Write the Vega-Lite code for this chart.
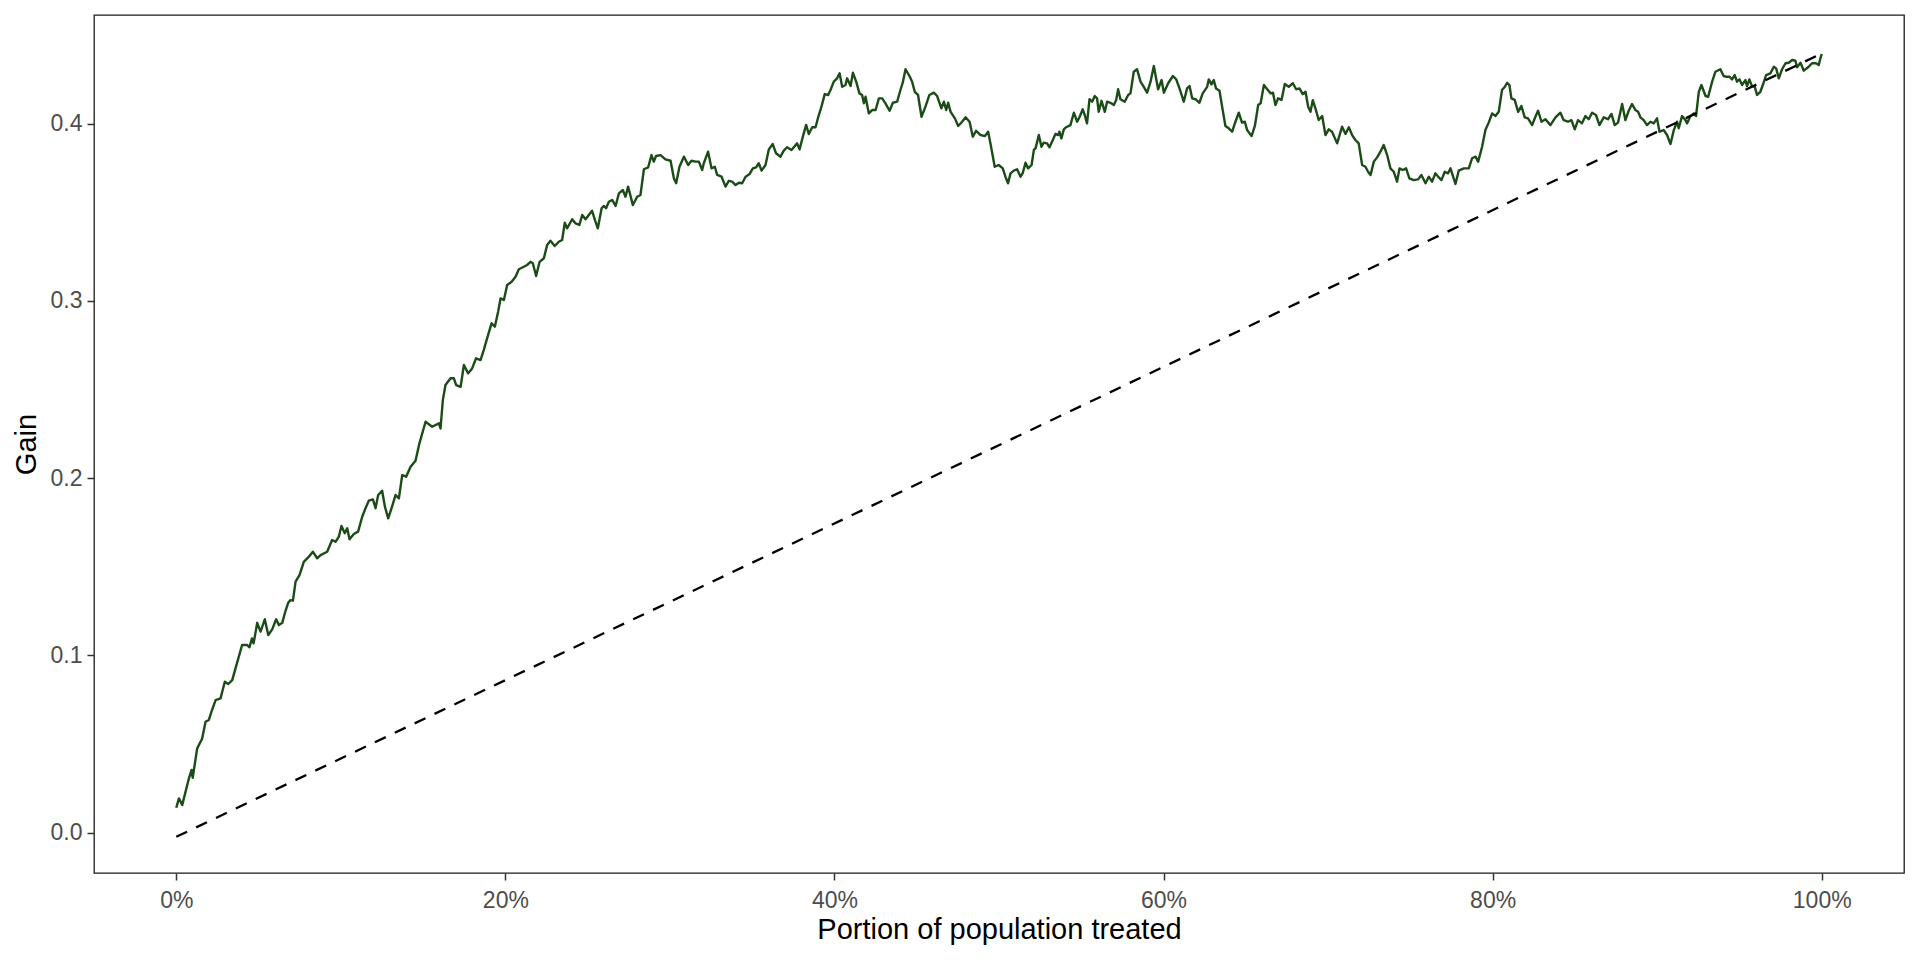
{
  "$schema": "https://vega.github.io/schema/vega-lite/v6.json",
  "width": 1810,
  "height": 858,
  "autosize": {"type": "none"},
  "padding": {"left": 94, "top": 15, "right": 16, "bottom": 87},
  "background": "white",
  "datasets": {
    "curve": [
      {"p":0,"g":0.0141},{"p":0.0016,"g":0.0194},{"p":0.0036,"g":0.0156},{"p":0.0077,"g":0.0307},{"p":0.0093,"g":0.0354},{"p":0.01,"g":0.031},{"p":0.0127,"g":0.0476},{"p":0.0157,"g":0.053},{"p":0.0178,"g":0.0626},{"p":0.0198,"g":0.0636},{"p":0.0214,"g":0.0683},{"p":0.0239,"g":0.0748},{"p":0.0269,"g":0.0758},{"p":0.0295,"g":0.0852},{"p":0.0316,"g":0.0839},{"p":0.034,"g":0.0861},{"p":0.036,"g":0.0927},{"p":0.04,"g":0.1059},{"p":0.043,"g":0.1059},{"p":0.0445,"g":0.1046},{"p":0.046,"g":0.1096},{"p":0.047,"g":0.1068},{"p":0.0492,"g":0.1184},{"p":0.0512,"g":0.1134},{"p":0.0538,"g":0.1204},{"p":0.0559,"g":0.1115},{"p":0.0583,"g":0.1147},{"p":0.0607,"g":0.1204},{"p":0.0624,"g":0.1171},{"p":0.0644,"g":0.1184},{"p":0.0664,"g":0.1252},{"p":0.068,"g":0.1297},{"p":0.0694,"g":0.1312},{"p":0.0709,"g":0.1309},{"p":0.0725,"g":0.1416},{"p":0.0749,"g":0.1453},{"p":0.0775,"g":0.1528},{"p":0.0806,"g":0.1557},{"p":0.083,"g":0.1585},{"p":0.0856,"g":0.1548},{"p":0.0877,"g":0.1566},{"p":0.0917,"g":0.1585},{"p":0.0947,"g":0.1651},{"p":0.0968,"g":0.1641},{"p":0.0988,"g":0.167},{"p":0.1004,"g":0.173},{"p":0.1024,"g":0.1689},{"p":0.1039,"g":0.1717},{"p":0.1053,"g":0.1655},{"p":0.1079,"g":0.1685},{"p":0.1105,"g":0.1698},{"p":0.113,"g":0.1782},{"p":0.115,"g":0.183},{"p":0.117,"g":0.1873},{"p":0.1195,"g":0.188},{"p":0.1211,"g":0.183},{"p":0.1227,"g":0.1905},{"p":0.1251,"g":0.1929},{"p":0.1268,"g":0.1839},{"p":0.1288,"g":0.1773},{"p":0.1308,"g":0.183},{"p":0.1333,"g":0.1905},{"p":0.1353,"g":0.1886},{"p":0.1373,"g":0.2017},{"p":0.1397,"g":0.2008},{"p":0.1424,"g":0.2064},{"p":0.1454,"g":0.2098},{"p":0.1476,"g":0.219},{"p":0.1515,"g":0.2318},{"p":0.1555,"g":0.229},{"p":0.1596,"g":0.2309},{"p":0.1606,"g":0.228},{"p":0.162,"g":0.244},{"p":0.1636,"g":0.2525},{"p":0.1667,"g":0.2563},{"p":0.1687,"g":0.2563},{"p":0.1701,"g":0.2525},{"p":0.1728,"g":0.2515},{"p":0.1748,"g":0.2638},{"p":0.1774,"g":0.2591},{"p":0.1798,"g":0.2619},{"p":0.1822,"g":0.2676},{"p":0.1849,"g":0.2666},{"p":0.1869,"g":0.2723},{"p":0.1889,"g":0.2788},{"p":0.1916,"g":0.2873},{"p":0.1936,"g":0.2854},{"p":0.1956,"g":0.2939},{"p":0.1971,"g":0.3014},{"p":0.1991,"g":0.3005},{"p":0.2011,"g":0.3089},{"p":0.2038,"g":0.3108},{"p":0.2062,"g":0.3136},{"p":0.2082,"g":0.3178},{"p":0.2112,"g":0.3192},{"p":0.2132,"g":0.3202},{"p":0.2153,"g":0.322},{"p":0.2167,"g":0.3212},{"p":0.2187,"g":0.314},{"p":0.2208,"g":0.322},{"p":0.2234,"g":0.324},{"p":0.2254,"g":0.3315},{"p":0.2274,"g":0.3339},{"p":0.23,"g":0.3309},{"p":0.2325,"g":0.3333},{"p":0.2345,"g":0.3343},{"p":0.2361,"g":0.344},{"p":0.2375,"g":0.3409},{"p":0.2406,"g":0.346},{"p":0.2426,"g":0.3437},{"p":0.245,"g":0.3428},{"p":0.2467,"g":0.3484},{"p":0.2487,"g":0.346},{"p":0.2507,"g":0.3484},{"p":0.2527,"g":0.3508},{"p":0.2544,"g":0.3456},{"p":0.2562,"g":0.3409},{"p":0.2585,"g":0.3522},{"p":0.2598,"g":0.3535},{"p":0.2612,"g":0.3522},{"p":0.2629,"g":0.3559},{"p":0.2649,"g":0.3569},{"p":0.267,"g":0.3535},{"p":0.269,"g":0.3606},{"p":0.2714,"g":0.3625},{"p":0.273,"g":0.3587},{"p":0.2746,"g":0.3644},{"p":0.2775,"g":0.354},{"p":0.2801,"g":0.3587},{"p":0.2821,"g":0.3597},{"p":0.2842,"g":0.3742},{"p":0.2868,"g":0.3753},{"p":0.2888,"g":0.3822},{"p":0.2902,"g":0.3785},{"p":0.2916,"g":0.3817},{"p":0.2943,"g":0.3822},{"p":0.2973,"g":0.3798},{"p":0.3004,"g":0.379},{"p":0.3024,"g":0.3691},{"p":0.3038,"g":0.3663},{"p":0.3058,"g":0.3756},{"p":0.3085,"g":0.3813},{"p":0.3111,"g":0.3766},{"p":0.3131,"g":0.379},{"p":0.3156,"g":0.3785},{"p":0.3176,"g":0.3785},
      {"p":0.3196,"g":0.3738},{"p":0.3206,"g":0.3776},{"p":0.3232,"g":0.3841},{"p":0.3253,"g":0.3747},{"p":0.3273,"g":0.3756},{"p":0.3287,"g":0.371},{"p":0.3314,"g":0.37},{"p":0.3338,"g":0.3644},{"p":0.3358,"g":0.3677},{"p":0.3378,"g":0.3672},{"p":0.3399,"g":0.3653},{"p":0.3419,"g":0.3666},{"p":0.3439,"g":0.3663},{"p":0.346,"g":0.37},{"p":0.3484,"g":0.3715},{"p":0.3504,"g":0.3747},{"p":0.3524,"g":0.3753},{"p":0.354,"g":0.3776},{"p":0.3557,"g":0.3734},{"p":0.3581,"g":0.3766},{"p":0.3601,"g":0.3854},{"p":0.3625,"g":0.3884},{"p":0.3645,"g":0.3832},{"p":0.3672,"g":0.3813},{"p":0.3692,"g":0.3847},{"p":0.3712,"g":0.3866},{"p":0.3739,"g":0.3851},{"p":0.3773,"g":0.3888},{"p":0.3788,"g":0.3854},{"p":0.3808,"g":0.3926},{"p":0.3828,"g":0.3992},{"p":0.3844,"g":0.3941},{"p":0.3865,"g":0.3979},{"p":0.3885,"g":0.3979},{"p":0.3901,"g":0.4035},{"p":0.3921,"g":0.4095},{"p":0.3941,"g":0.4166},{"p":0.3962,"g":0.4161},{"p":0.3976,"g":0.4189},{"p":0.3996,"g":0.4236},{"p":0.4016,"g":0.4255},{"p":0.4031,"g":0.4283},{"p":0.4047,"g":0.4207},{"p":0.4067,"g":0.4217},{"p":0.4077,"g":0.4255},{"p":0.4098,"g":0.4211},{"p":0.4112,"g":0.4287},{"p":0.4132,"g":0.4236},{"p":0.4152,"g":0.417},{"p":0.4168,"g":0.4161},{"p":0.4179,"g":0.4114},{"p":0.4189,"g":0.4151},{"p":0.4209,"g":0.4057},{"p":0.4229,"g":0.4076},{"p":0.425,"g":0.4076},{"p":0.427,"g":0.4142},{"p":0.429,"g":0.4142},{"p":0.431,"g":0.4114},{"p":0.4335,"g":0.4072},{"p":0.4355,"g":0.4117},{"p":0.4381,"g":0.4123},{"p":0.4401,"g":0.4189},{"p":0.4415,"g":0.423},{"p":0.4432,"g":0.4306},{"p":0.4456,"g":0.4268},{"p":0.4472,"g":0.4236},{"p":0.4488,"g":0.4179},{"p":0.4508,"g":0.4161},{"p":0.4529,"g":0.4038},{"p":0.4553,"g":0.4095},{"p":0.4577,"g":0.4161},{"p":0.4604,"g":0.4174},{"p":0.4624,"g":0.4155},{"p":0.465,"g":0.4086},{"p":0.4665,"g":0.4123},{"p":0.4679,"g":0.4076},{"p":0.4691,"g":0.4117},{"p":0.4706,"g":0.4066},{"p":0.4732,"g":0.4029},{"p":0.4752,"g":0.3986},{"p":0.4776,"g":0.401},{"p":0.4797,"g":0.4035},{"p":0.4821,"g":0.401},{"p":0.4841,"g":0.3926},{"p":0.4861,"g":0.3959},{"p":0.4888,"g":0.3935},{"p":0.4914,"g":0.3929},{"p":0.4934,"g":0.3954},{"p":0.4948,"g":0.3888},{"p":0.4974,"g":0.3756},{"p":0.4998,"g":0.3766},{"p":0.5023,"g":0.3747},{"p":0.5039,"g":0.37},{"p":0.5055,"g":0.3663},{"p":0.507,"g":0.3719},{"p":0.509,"g":0.3734},{"p":0.511,"g":0.3742},
      {"p":0.5131,"g":0.37},{"p":0.5145,"g":0.3722},{"p":0.5161,"g":0.3779},{"p":0.5177,"g":0.3747},{"p":0.5198,"g":0.3766},{"p":0.5212,"g":0.3851},{"p":0.5222,"g":0.386},{"p":0.5242,"g":0.3935},{"p":0.5258,"g":0.3869},{"p":0.5272,"g":0.3892},{"p":0.5292,"g":0.3888},{"p":0.5307,"g":0.3866},{"p":0.5327,"g":0.3907},{"p":0.5343,"g":0.3941},{"p":0.5359,"g":0.3935},{"p":0.5367,"g":0.3954},{"p":0.5379,"g":0.3916},{"p":0.5394,"g":0.3967},{"p":0.5408,"g":0.3979},{"p":0.5434,"g":0.3991},{"p":0.5455,"g":0.4061},{"p":0.5475,"g":0.401},{"p":0.5489,"g":0.4035},{"p":0.5509,"g":0.408},{"p":0.5521,"g":0.4048},{"p":0.5535,"g":0.4001},{"p":0.555,"g":0.4137},{"p":0.5566,"g":0.4123},{"p":0.5582,"g":0.4155},{"p":0.5596,"g":0.4142},{"p":0.5606,"g":0.4066},{"p":0.5623,"g":0.4128},{"p":0.5643,"g":0.4066},{"p":0.5657,"g":0.4123},{"p":0.5677,"g":0.4117},{"p":0.5698,"g":0.4104},{"p":0.5712,"g":0.4132},{"p":0.5724,"g":0.4193},{"p":0.5738,"g":0.4137},{"p":0.5764,"g":0.4123},{"p":0.5785,"g":0.4161},{"p":0.5799,"g":0.417},{"p":0.5819,"g":0.4292},{"p":0.5839,"g":0.4306},{"p":0.586,"g":0.4236},{"p":0.588,"g":0.4207},{"p":0.59,"g":0.4174},{"p":0.5921,"g":0.4236},{"p":0.5941,"g":0.4324},{"p":0.5967,"g":0.4193},{"p":0.5988,"g":0.4245},{"p":0.6002,"g":0.4174},{"p":0.6028,"g":0.4227},{"p":0.6057,"g":0.4268},{"p":0.6077,"g":0.4249},{"p":0.6097,"g":0.4198},{"p":0.6123,"g":0.4123},{"p":0.6143,"g":0.4198},{"p":0.6158,"g":0.4211},{"p":0.6174,"g":0.4142},{"p":0.6194,"g":0.4137},{"p":0.6218,"g":0.4117},{"p":0.6238,"g":0.417},{"p":0.6265,"g":0.4207},{"p":0.6275,"g":0.4249},{"p":0.6291,"g":0.4221},{"p":0.6305,"g":0.4245},{"p":0.6319,"g":0.4198},{"p":0.634,"g":0.4185},{"p":0.6356,"g":0.4095},{"p":0.6376,"g":0.3986},{"p":0.6396,"g":0.3973},{"p":0.6417,"g":0.3954},{"p":0.6437,"g":0.401},{"p":0.6457,"g":0.4061},{"p":0.6477,"g":0.4005},{"p":0.6494,"g":0.401},{"p":0.6508,"g":0.3963},{"p":0.6535,"g":0.3929},{"p":0.6555,"g":0.3986},{"p":0.6575,"g":0.4104},{"p":0.659,"g":0.4114},{"p":0.661,"g":0.4217},{"p":0.663,"g":0.4193},{"p":0.6651,"g":0.417},{"p":0.6665,"g":0.4174},{"p":0.668,"g":0.4104},{"p":0.6696,"g":0.4142},{"p":0.6717,"g":0.4133},{"p":0.6737,"g":0.4223},{"p":0.6761,"g":0.4207},{"p":0.6786,"g":0.4227},{"p":0.6806,"g":0.4193},{"p":0.6826,"g":0.4198},{"p":0.6846,"g":0.4166},{"p":0.6863,"g":0.4179},{"p":0.6879,"g":0.4095},{"p":0.6893,"g":0.4066},{"p":0.6907,"g":0.4132},{"p":0.6923,"g":0.4086},{"p":0.6943,"g":0.402},{"p":0.6964,"g":0.4042},{"p":0.6984,"g":0.3935},{"p":0.7004,"g":0.3967},
      {"p":0.7024,"g":0.3954},{"p":0.7055,"g":0.3888},{"p":0.7085,"g":0.3982},{"p":0.7106,"g":0.3941},{"p":0.7126,"g":0.3979},{"p":0.7146,"g":0.3935},{"p":0.7166,"g":0.3907},{"p":0.7186,"g":0.3888},{"p":0.7207,"g":0.3766},{"p":0.7227,"g":0.3756},{"p":0.7243,"g":0.3728},{"p":0.7258,"g":0.371},{"p":0.7278,"g":0.3785},{"p":0.7298,"g":0.3809},{"p":0.7318,"g":0.3841},{"p":0.7338,"g":0.3879},{"p":0.7359,"g":0.3822},{"p":0.7379,"g":0.3747},{"p":0.7399,"g":0.3728},{"p":0.7419,"g":0.3672},{"p":0.7434,"g":0.3747},{"p":0.7454,"g":0.3738},{"p":0.7474,"g":0.3747},{"p":0.7494,"g":0.3691},{"p":0.752,"g":0.3681},{"p":0.7547,"g":0.3685},{"p":0.7567,"g":0.371},{"p":0.7592,"g":0.3663},{"p":0.7612,"g":0.37},{"p":0.7632,"g":0.3672},{"p":0.7652,"g":0.3719},{"p":0.7673,"g":0.3696},{"p":0.7689,"g":0.3681},{"p":0.7709,"g":0.3728},{"p":0.7729,"g":0.3719},{"p":0.7744,"g":0.3747},{"p":0.7774,"g":0.3659},{"p":0.7794,"g":0.3734},{"p":0.7825,"g":0.3747},{"p":0.7855,"g":0.3747},{"p":0.7875,"g":0.3804},{"p":0.7896,"g":0.3813},{"p":0.7912,"g":0.3785},{"p":0.7936,"g":0.3869},{"p":0.7956,"g":0.3963},{"p":0.7976,"g":0.4005},{"p":0.7997,"g":0.4057},{"p":0.8017,"g":0.4042},{"p":0.8037,"g":0.4066},{"p":0.8057,"g":0.4189},{"p":0.8074,"g":0.4207},{"p":0.8088,"g":0.423},{"p":0.8102,"g":0.4217},{"p":0.8114,"g":0.4142},{"p":0.8134,"g":0.4133},{"p":0.8155,"g":0.4066},{"p":0.8175,"g":0.4099},{"p":0.8195,"g":0.4035},{"p":0.8215,"g":0.4029},{"p":0.824,"g":0.3991},{"p":0.826,"g":0.4038},{"p":0.8276,"g":0.4072},{"p":0.8297,"g":0.401},{"p":0.8321,"g":0.4024},{"p":0.8351,"g":0.3991},{"p":0.8382,"g":0.4035},{"p":0.8412,"g":0.4061},{"p":0.8432,"g":0.4019},{"p":0.8458,"g":0.401},{"p":0.8479,"g":0.4019},{"p":0.8499,"g":0.3967},{"p":0.8519,"g":0.4019},{"p":0.8543,"g":0.4001},{"p":0.8564,"g":0.4042},{"p":0.8584,"g":0.4024},{"p":0.8604,"g":0.4061},{"p":0.8628,"g":0.4048},{"p":0.8649,"g":0.3991},{"p":0.8675,"g":0.4035},{"p":0.8701,"g":0.4024},{"p":0.8722,"g":0.4054},{"p":0.8742,"g":0.3991},{"p":0.8762,"g":0.4005},{"p":0.8787,"g":0.411},{"p":0.8807,"g":0.4019},{"p":0.8827,"g":0.4072},{"p":0.8847,"g":0.411},{"p":0.8868,"g":0.4076},{"p":0.8884,"g":0.4066},
      {"p":0.8898,"g":0.4035},{"p":0.8918,"g":0.4019},{"p":0.8938,"g":0.3991},{"p":0.8959,"g":0.401},{"p":0.8979,"g":0.4001},{"p":0.8999,"g":0.4029},{"p":0.9014,"g":0.3954},{"p":0.904,"g":0.3963},{"p":0.906,"g":0.3935},{"p":0.9081,"g":0.3884},{"p":0.9101,"g":0.3963},{"p":0.9121,"g":0.401},{"p":0.9131,"g":0.3973},{"p":0.9151,"g":0.4042},{"p":0.9172,"g":0.4019},{"p":0.9182,"g":0.4001},{"p":0.9202,"g":0.4042},{"p":0.9222,"g":0.4057},{"p":0.9236,"g":0.4042},{"p":0.9253,"g":0.4179},{"p":0.9269,"g":0.4217},{"p":0.9294,"g":0.4155},{"p":0.931,"g":0.4151},{"p":0.9334,"g":0.4236},{"p":0.9354,"g":0.4292},{"p":0.9384,"g":0.4306},{"p":0.9404,"g":0.4268},{"p":0.9418,"g":0.4264},{"p":0.9439,"g":0.4264},{"p":0.9455,"g":0.4249},{"p":0.9471,"g":0.4273},{"p":0.9485,"g":0.4236},{"p":0.95,"g":0.4249},{"p":0.9516,"g":0.4217},{"p":0.9536,"g":0.4245},{"p":0.9546,"g":0.4211},{"p":0.956,"g":0.4249},{"p":0.9576,"g":0.4211},{"p":0.9593,"g":0.4207},{"p":0.9607,"g":0.4161},{"p":0.9627,"g":0.4179},{"p":0.9642,"g":0.4217},{"p":0.9662,"g":0.4273},{"p":0.9688,"g":0.4283},{"p":0.9709,"g":0.432},{"p":0.9723,"g":0.4311},{"p":0.9739,"g":0.4255},{"p":0.9759,"g":0.4306},{"p":0.978,"g":0.434},{"p":0.98,"g":0.4343},{"p":0.982,"g":0.4358},{"p":0.984,"g":0.4354},{"p":0.985,"g":0.4317},{"p":0.9871,"g":0.4343},{"p":0.9891,"g":0.4298},{"p":0.9917,"g":0.4317},{"p":0.9941,"g":0.434},{"p":0.9965,"g":0.434},{"p":0.9982,"g":0.433},{"p":0.9992,"g":0.4368},{"p":1.0,"g":0.4392}
    ],
    "diag": [
      {"p":0,"g":-0.0023},
      {"p":1,"g":0.4395}
    ]
  },
  "encoding": {
    "x": {
      "field": "p",
      "type": "quantitative",
      "scale": {"domain": [-0.05, 1.05], "nice": false, "zero": false},
      "axis": {
        "title": "Portion of population treated",
        "values": [0, 0.2, 0.4, 0.6, 0.8, 1],
        "format": ".0%",
        "labelBaseline": "alphabetic",
        "labelPadding": 27,
        "titleBaseline": "alphabetic",
        "titleY": 65
      }
    },
    "y": {
      "field": "g",
      "type": "quantitative",
      "scale": {"domain": [-0.0227, 0.4612], "nice": false, "zero": false},
      "axis": {
        "title": "Gain",
        "values": [0, 0.1, 0.2, 0.3, 0.4],
        "format": ".1f",
        "labelPadding": 5,
        "labelBaseline": "middle",
        "titleBaseline": "alphabetic",
        "titleX": -59,
        "titleY": 429
      }
    }
  },
  "layer": [
    {
      "data": {"name": "curve"},
      "mark": {"type": "line", "color": "#1b4b17", "strokeWidth": 2.4, "strokeJoin": "round"}
    },
    {
      "data": {"name": "diag"},
      "mark": {"type": "line", "color": "black", "strokeWidth": 2.3, "strokeDash": [12, 10]}
    }
  ],
  "config": {
    "font": "Liberation Sans",
    "view": {"stroke": "#1a1a1a", "strokeWidth": 1.3},
    "axis": {
      "grid": false,
      "domain": false,
      "ticks": true,
      "tickColor": "#333333",
      "tickWidth": 1.5,
      "tickSize": 7,
      "labelFont": "Liberation Sans",
      "labelFontSize": 23,
      "labelColor": "#4d4d4d",
      "labelOverlap": false,
      "labelFlush": false,
      "titleFont": "Liberation Sans",
      "titleFontSize": 29,
      "titleFontWeight": "normal",
      "titleColor": "black"
    }
  }
}
